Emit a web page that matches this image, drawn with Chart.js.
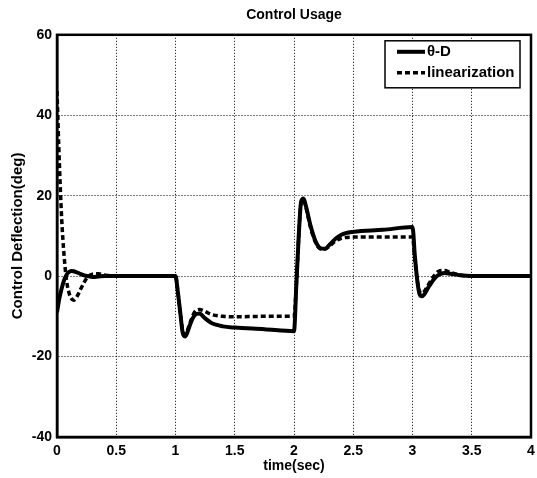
<!DOCTYPE html>
<html>
<head>
<meta charset="utf-8">
<script src="https://cdn.jsdelivr.net/npm/chart.js@4"></script>
<style>
  body { margin: 0; background: #fff; }
  canvas { display: block; }
</style>
</head>
<body>
<canvas id="myChart" width="537" height="478"></canvas>
<script>
// time samples (sec)
var time = [0, 0.02, 0.04, 0.06, 0.08, 0.1, 0.12, 0.14, 0.17, 0.2, 0.23, 0.26, 0.3, 0.35, 0.4, 0.5,
    1.0, 1.02, 1.04, 1.06, 1.08, 1.1, 1.13, 1.16, 1.2, 1.25, 1.3, 1.4, 1.5, 1.75,
    2.0, 2.02, 2.04, 2.06, 2.08, 2.1, 2.14, 2.18, 2.22, 2.26, 2.3, 2.35, 2.4, 2.5, 2.75,
    3.0, 3.02, 3.04, 3.06, 3.08, 3.1, 3.14, 3.18, 3.22, 3.27, 3.32, 3.4, 3.5, 4.0];

// theta-D control deflection (deg)
var thetaD = [-9, -5.5, -3, -1, 0.3, 1, 1.3, 1.2, 0.9, 0.5, 0.2, 0, -0.2, -0.1, 0, 0,
    0, -4, -9, -14, -15, -14, -11.5, -9.8, -9.3, -10.5, -11.6, -12.5, -12.8, -13.2,
    -13.7, -2, 10, 18.5, 19.3, 17.5, 12.5, 8.8, 7, 6.8, 7.8, 9.3, 10.3, 11, 11.5,
    12.2, 5, -1, -4.5, -5, -4.5, -2.5, -0.8, 0.3, 0.8, 0.6, 0.2, 0, 0];

// linearization control deflection (deg)
var linearization = [46, 28, 14, 5, -1, -4, -5.5, -6, -5, -3.2, -1.5, -0.2, 0.5, 0.6, 0.3, 0,
    0, -4, -9, -13.5, -14.5, -13.5, -11, -9, -8.3, -8.8, -9.5, -10, -10.1, -10,
    -10, -2, 10, 18.3, 19, 17.2, 12, 8.5, 6.8, 6.7, 7.5, 8.7, 9.4, 9.7, 9.7,
    9.7, 4, -1, -3.8, -4.3, -3.8, -1.8, 0, 1.2, 1.4, 0.9, 0.3, 0, 0];

var seriesLabels = ["\u03b8-D", "linearization"];

var FONT = "'Liberation Sans', Arial, sans-serif";

function toPoints(xs, ys) {
    return xs.map(function (x, i) { return { x: x, y: ys[i] }; });
}

// frame around the plot area
var framePlugin = {
    id: "frame",
    afterDatasetsDraw: function (chart) {
        var a = chart.chartArea, ctx = chart.ctx;
        ctx.save();
        ctx.strokeStyle = "#000";
        ctx.lineWidth = 2.5;
        ctx.strokeRect(a.left, a.top, a.right - a.left, a.bottom - a.top);
        ctx.restore();
    }
};

// boxed legend in the top right of the plot area
var boxLegend = {
    id: "boxLegend",
    afterDraw: function (chart) {
        var a = chart.chartArea, ctx = chart.ctx;
        var w = 135, h = 47;
        var x0 = a.right - 11 - w, y0 = a.top + 6;
        ctx.save();
        ctx.fillStyle = "#fff";
        ctx.fillRect(x0, y0, w, h);
        ctx.strokeStyle = "#000";
        ctx.lineWidth = 1.5;
        ctx.strokeRect(x0, y0, w, h);
        chart.data.datasets.forEach(function (ds, i) {
            var y = y0 + 11 + i * 21;
            ctx.beginPath();
            ctx.setLineDash(ds.borderDash || []);
            ctx.lineWidth = ds.borderWidth;
            ctx.moveTo(x0 + 12, y);
            ctx.lineTo(x0 + 40, y);
            ctx.stroke();
            ctx.setLineDash([]);
            ctx.fillStyle = "#000";
            ctx.font = "bold 15px " + FONT;
            ctx.textBaseline = "middle";
            ctx.fillText(ds.label, x0 + 42, y);
        });
        ctx.restore();
    }
};

var ctx = document.getElementById("myChart").getContext("2d");
var chart = new Chart(ctx, {
    type: "line",
    data: {
        datasets: [
            {
                label: seriesLabels[0],
                data: toPoints(time, thetaD),
                borderColor: "#000",
                borderWidth: 4,
                pointRadius: 0,
                cubicInterpolationMode: "monotone",
                fill: false
            },
            {
                label: seriesLabels[1],
                data: toPoints(time, linearization),
                borderColor: "#000",
                borderWidth: 3.5,
                borderDash: [5, 3],
                pointRadius: 0,
                cubicInterpolationMode: "monotone",
                fill: false
            }
        ]
    },
    options: {
        responsive: false,
        animation: false,
        layout: { padding: { left: 0, right: 6, top: 0, bottom: 0 } },
        plugins: {
            legend: { display: false },
            tooltip: { enabled: false },
            title: {
                display: true,
                text: "Control Usage",
                color: "#000",
                fullSize: false,
                font: { family: FONT, size: 14, weight: "bold" },
                padding: { top: 7, bottom: 11 }
            }
        },
        scales: {
            x: {
                type: "linear",
                min: 0,
                max: 4,
                ticks: {
                    stepSize: 0.5,
                    color: "#000",
                    padding: 6,
                    maxRotation: 0,
                    font: { family: FONT, size: 14, weight: "bold" },
                    callback: function (v) { return String(v); }
                },
                grid: { color: "#000", lineWidth: 1, drawTicks: false },
                border: { display: true, color: "#000", width: 2.5, dash: [1, 2] },
                title: {
                    display: true,
                    text: "time(sec)",
                    color: "#000",
                    font: { family: FONT, size: 14, weight: "bold" },
                    padding: { top: 0, bottom: 3 }
                },
                afterFit: function (scale) {
                    scale.height = 41;
                    scale.paddingRight = 0;
                    scale.paddingLeft = 0;
                }
            },
            y: {
                min: -40,
                max: 60,
                ticks: {
                    stepSize: 20,
                    color: "#000",
                    padding: 5,
                    font: { family: FONT, size: 14, weight: "bold" }
                },
                grid: { color: "#000", lineWidth: 1, drawTicks: false },
                border: { display: true, color: "#000", width: 2.5, dash: [1, 2] },
                title: {
                    display: true,
                    text: "Control Deflection(deg)",
                    color: "#000",
                    font: { family: FONT, size: 15, weight: "bold" },
                    padding: { top: 9, bottom: 0 }
                },
                afterFit: function (scale) { scale.width = 57; }
            }
        }
    },
    plugins: [framePlugin, boxLegend]
});
</script>
</body>
</html>
